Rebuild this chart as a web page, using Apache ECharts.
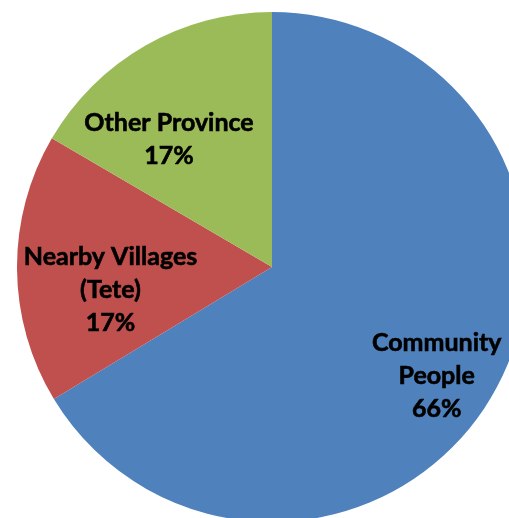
<!DOCTYPE html>
<html>
<head>
<meta charset="utf-8">
<script src="https://cdn.jsdelivr.net/npm/echarts@6/dist/echarts.min.js"></script>
<style>
html,body{margin:0;padding:0;background:#fff;}
#chart{width:509px;height:518px;}
</style>
</head>
<body>
<div id="chart"></div>
<script>
var categories = ['Community\nPeople', 'Nearby Villages\n(Tete)', 'Other Province'];
var values = [66.4, 17.1, 16.6];
var colors = ['#4F81BD', '#C0504D', '#9BBB59'];
var labelShift = [[51, 45], [-31, 22], [-38, -14]];

var chart = echarts.init(document.getElementById('chart'));
chart.setOption({
  animation: false,
  series: [{
    type: 'pie',
    center: [272, 267],
    radius: [0, 255],
    startAngle: 90,
    clockwise: true,
    emphasis: {disabled: true},
    data: categories.map(function (c, i) {
      return {name: c, value: values[i], itemStyle: {color: colors[i]}};
    }),
    label: {
      show: true,
      position: 'inside',
      formatter: function (p) { return p.name + '\n' + Math.round(p.percent) + '%'; },
      fontFamily: 'Lato',
      fontWeight: 'bold',
      fontSize: 25,
      lineHeight: 33,
      color: '#000',
      textBorderColor: '#000',
      textBorderWidth: 0.6,
      align: 'center'
    },
    labelLine: {show: false},
    labelLayout: function (params) {
      var s = labelShift[params.dataIndex];
      return {dx: s[0], dy: s[1]};
    }
  }]
});
</script>
</body>
</html>
